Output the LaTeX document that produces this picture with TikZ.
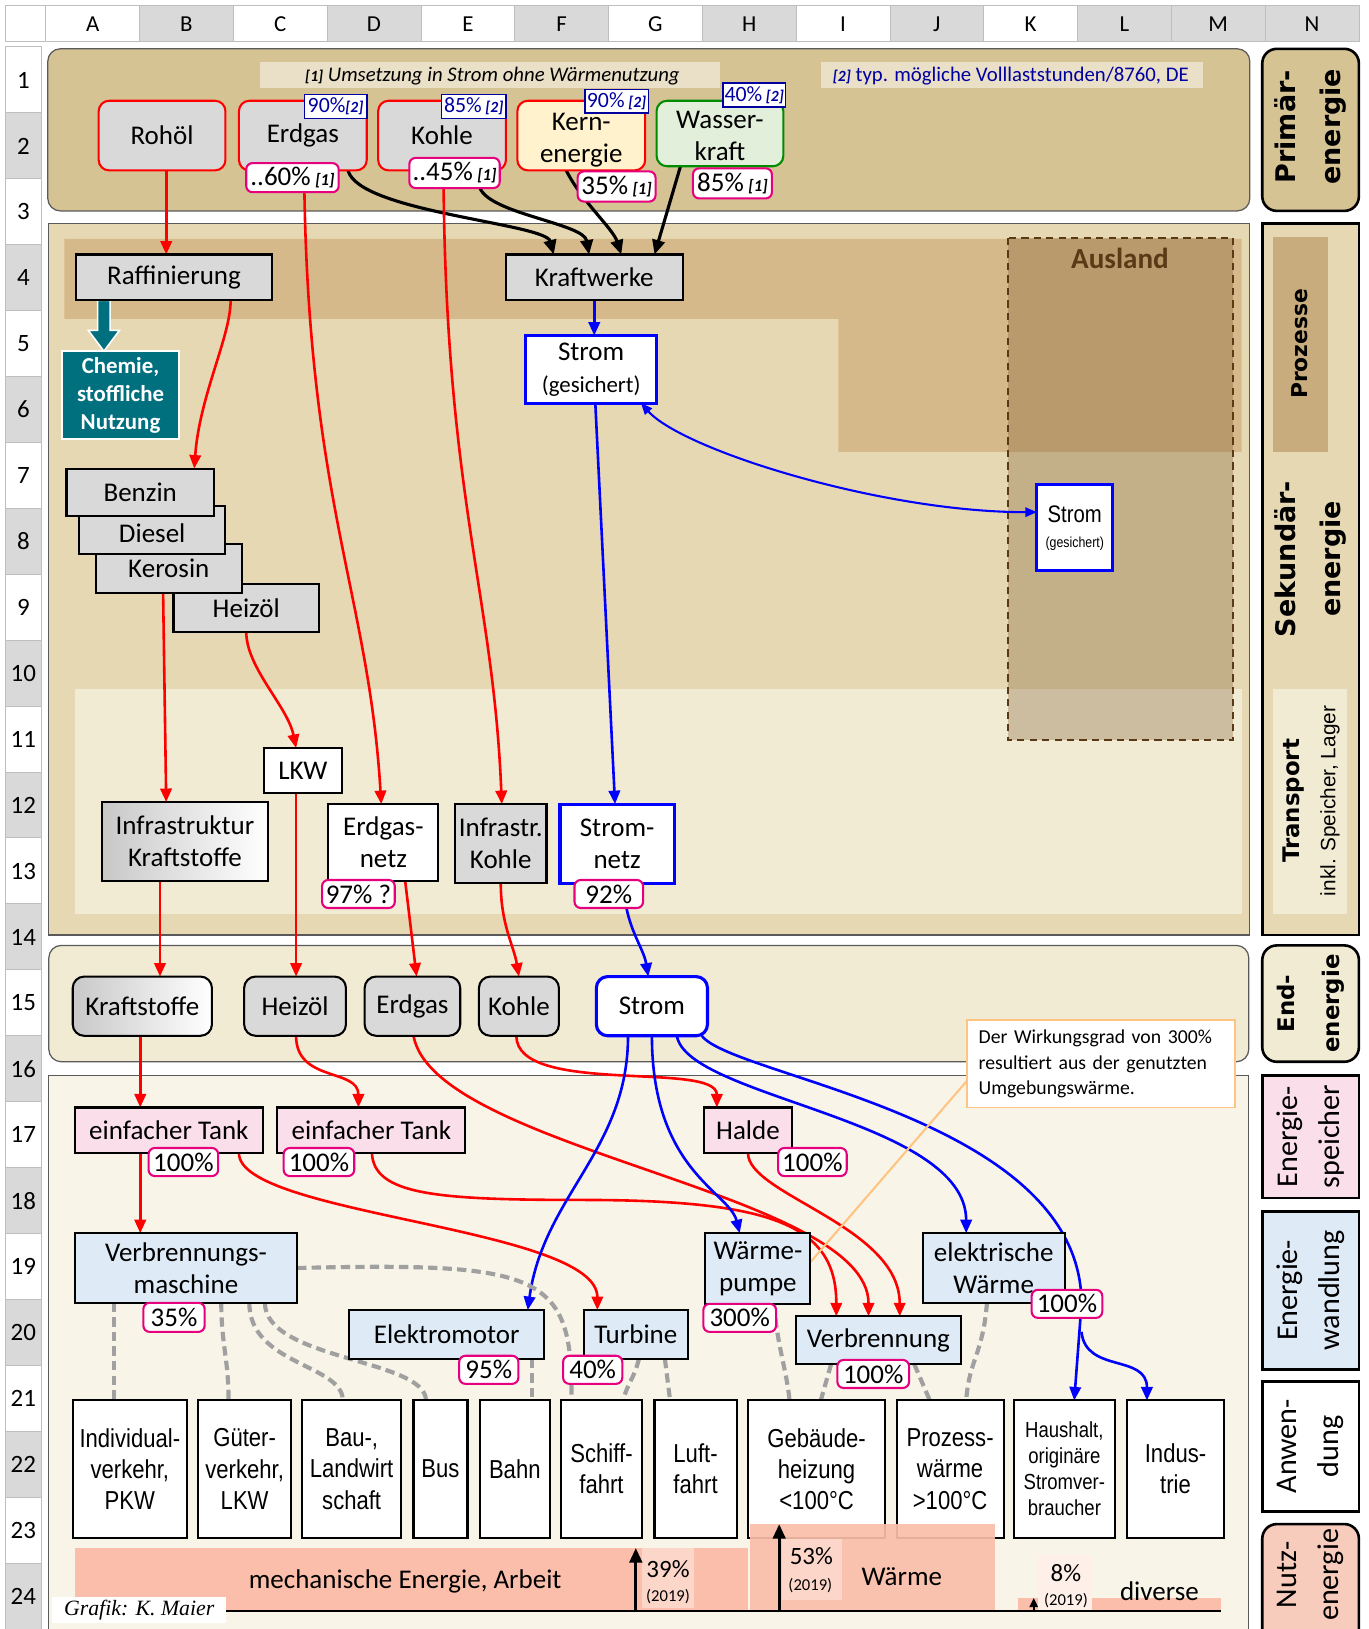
\documentclass[tikz,border=0pt]{standalone}
\usepackage{fontspec}
\setmainfont{Carlito}
\newfontfamily\narrowf[FakeStretch=0.85]{Liberation Sans}
\newfontfamily\arialf{Liberation Sans}
\newfontfamily\dejaf{DejaVu Sans}
\newfontfamily\timesf{Liberation Serif}
\usetikzlibrary{arrows.meta,calc}
\newcommand\fs[2]{\fontsize{#1}{#2}\selectfont}
\definecolor{hg}{RGB}{217,217,217}
\definecolor{gridc}{RGB}{190,190,190}
\definecolor{tanA}{RGB}{214,195,148}
\definecolor{tanB}{RGB}{230,216,178}
\definecolor{prozc}{RGB}{214,185,138}
\definecolor{prozside}{RGB}{201,172,125}
\definecolor{transc}{RGB}{242,235,212}
\definecolor{endc}{RGB}{242,235,212}
\definecolor{botc}{RGB}{248,245,232}
\definecolor{auslc}{RGB}{120,85,40}
\definecolor{ausbrown}{RGB}{90,58,22}
\definecolor{ngrey}{RGB}{217,217,217}
\definecolor{kernc}{RGB}{255,242,204}
\definecolor{wasc}{RGB}{226,239,218}
\definecolor{wasb}{RGB}{0,140,0}
\definecolor{navyc}{RGB}{0,0,160}
\definecolor{magc}{RGB}{230,0,126}
\definecolor{tealc}{RGB}{0,112,127}
\definecolor{pinkc}{RGB}{250,222,233}
\definecolor{bluec}{RGB}{222,235,247}
\definecolor{salm}{RGB}{250,190,170}
\definecolor{salml}{RGB}{252,214,200}
\definecolor{nutzc}{RGB}{248,204,188}
\definecolor{callc}{RGB}{255,195,130}
\definecolor{dgrey}{RGB}{90,90,90}
\definecolor{dashc}{RGB}{160,160,160}
\definecolor{notec}{RGB}{234,224,200}
\definecolor{gradc}{RGB}{200,200,200}
\pgfdeclarelayer{bg}\pgfdeclarelayer{conn}\pgfsetlayers{bg,conn,main}
\tikzset{
 gb/.style={draw=black, line width=2pt, fill=ngrey},
 wb/.style={draw=black, line width=2pt, fill=white},
 pr/.style={draw=red, line width=2pt, fill=ngrey, rounded corners=10pt},
 nb/.style={draw=navyc, line width=1.5pt, fill=white, font=\fs{21}{24}, text=navyc},
 pb/.style={draw=magc, line width=2pt, fill=white, rounded corners=6pt},
 eb/.style={draw=black, line width=2pt, fill=ngrey, rounded corners=11pt},
 tk/.style={draw=black, line width=2pt, fill=pinkc},
 bl/.style={draw=black, line width=2pt, fill=bluec},
 ap/.style={draw=black, line width=2pt, fill=white, font=\narrowf\fs{25}{30}},
 sb/.style={draw=blue, line width=3pt, fill=white},
 side/.style={draw=black, line width=2.5pt},
 sidet/.style={rotate=90, font=\dejaf\bfseries\fs{26}{43}},
 sidec/.style={rotate=90, font=\fs{29}{40}},
 ra/.style={red, line width=2.5pt, -{Triangle[length=13pt,width=11pt]}},
 ba/.style={blue, line width=2.5pt, -{Triangle[length=13pt,width=11pt]}},
 ka/.style={black, line width=3pt, -{Triangle[length=14pt,width=12pt]}},
 gd/.style={dashc, line width=4pt, dash pattern=on 9pt off 5pt},
}
\begin{document}
\begin{tikzpicture}[x=1pt,y=-1pt, every node/.style={inner sep=0pt,outer sep=0pt,align=center,font=\fs{26}{31}}]
\useasboundingbox (0,0) rectangle (1317,1568);
\begin{pgfonlayer}{bg}
\fill[white] (0,0) rectangle (1317,1568);
% panels
\draw[fill=tanA, draw=dgrey, line width=1.2pt, rounded corners=12pt] (46,47) rectangle (1203,203);
\draw[fill=tanB, draw=dgrey, line width=1.2pt] (47,215) rectangle (1203,900);
\fill[prozc] (62,230) -- (1195,230) -- (1195,435) -- (807,435) -- (807,307) -- (62,307) -- cycle;
\fill[transc] (72,663) rectangle (1195,880);
\fill[auslc, opacity=0.3] (970,229) rectangle (1187,712);
\draw[ausbrown, line width=2pt, dash pattern=on 7pt off 5pt] (970,229) rectangle (1187,712);
\draw[fill=endc, draw=dgrey, line width=1.2pt, rounded corners=12pt] (47,910) rectangle (1202,1022);
\draw[fill=botc, draw=dgrey, line width=1.2pt] (47,1035) rectangle (1202,1575);
\fill[notec] (250,60) rectangle (693,85);
\fill[notec] (790,60) rectangle (1158,85);
% nutzenergie bands
\fill[salm] (72,1490) rectangle (720,1551);
\fill[salm] (980,1538) rectangle (1175,1551);
\fill[salml] (618,1490) rectangle (668,1548);
\fill[white!60!salml] (999,1497) rectangle (1051,1551);
\end{pgfonlayer}

% headers
\draw[fill=white, draw=gridc, line width=0.8pt] (5,5) rectangle (44,40);
\foreach \i/\l/\c in {0/A/white,1/B/hg,2/C/white,3/D/hg,4/E/white,5/F/hg,6/G/white,7/H/hg,8/I/white,9/J/hg,10/K/white,11/L/hg,12/M/hg,13/N/hg}{
  \pgfmathsetmacro\xa{44+\i*90.29}
  \draw[fill=\c, draw=gridc, line width=0.8pt] (\xa,5) rectangle ({\xa+90.29},40);
  \node[font=\fs{22}{24}] (col\l) at ({\xa+45.15},23) {\l};
}
\foreach \r in {1,...,24}{
  \pgfmathsetmacro\ya{45+(\r-1)*63.46}
  \ifodd\r \def\rc{white}\else\def\rc{hg}\fi
  \draw[fill=\rc, draw=gridc, line width=0.8pt] (5,\ya) rectangle (40,{\ya+63.46});
  \node[font=\fs{24}{26}] (row\r) at (22.5,{\ya+32}) {\r};
}

% side labels
\draw[side, fill=tanA, rounded corners=14pt] (1215,47) rectangle (1308,203);
\node[sidet] (lprim) at (1261.5,122) {Primär-\\energie};
\draw[side, fill=tanB] (1215,215) rectangle (1308,900);
\fill[prozside] (1225,228) rectangle (1278,435);
\node[sidet, font=\dejaf\bfseries\fs{21}{24}] (lproz) at (1251,331) {Prozesse};
\node[sidet] (lsek) at (1261.5,538) {Sekundär-\\energie};
\fill[transc] (1225,663) rectangle (1297,880);
\node[rotate=90, font=\dejaf\bfseries\fs{22}{35}] (ltrans) at (1262,771) {Transport\\{\arialf\mdseries\fs{20}{24}inkl. Speicher, Lager}};
\draw[side, fill=endc, rounded corners=14pt] (1215,910) rectangle (1308,1022);
\node[sidet, font=\dejaf\bfseries\fs{22}{43}] (lend) at (1261.5,966) {End-\\energie};
\draw[side, fill=pinkc] (1215,1035) rectangle (1308,1153);
\node[sidec] (lspei) at (1261.5,1094) {Energie-\\speicher};
\draw[side, fill=bluec] (1215,1166) rectangle (1308,1318);
\node[sidec] (lwand) at (1261.5,1242) {Energie-\\wandlung};
\draw[side, fill=white] (1215,1330) rectangle (1308,1455);
\node[sidec] (lanw) at (1261.5,1392) {Anwen-\\dung};
\draw[side, fill=nutzc, rounded corners=14pt] (1215,1467) rectangle (1308,1590);
\node[sidec] (lnutz) at (1261.5,1516) {Nutz-\\energie};

% notes
\node[font=\fs{20}{22}\itshape] (note1) at (474,73) {{\bfseries\fs{15}{16}[1]} Umsetzung in Strom ohne Wärmenutzung};
\node[font=\fs{20}{22}, text=navyc] (note2) at (973,73) {{\bfseries\itshape\fs{15}{16}[2]} typ. mögliche Volllaststunden/8760, DE};
\node[font=\bfseries\fs{28}{30}, text=ausbrown] (ausland) at (1078,249) {Ausland};

% primary
\node[pr, minimum width=122pt, minimum height=67pt] (rohol) at (156,130.5) {Rohöl};
\node[pr, minimum width=123pt, minimum height=67pt] (erdgasP) at (291.5,130.5) {Erdgas};
\node[pr, minimum width=123pt, minimum height=67pt] (kohleP) at (425.5,130.5) {Kohle};
\node[pr, fill=kernc, minimum width=123pt, minimum height=67pt] (kern) at (559.5,130.5) {};
\node (kernT) at (559.5,135) {Kern-\\energie};
\node[pr, fill=wasc, draw=wasb, minimum width=122pt, minimum height=63pt] (wasser) at (693,128.5) {};
\node (wasserT) at (693,131) {Wasser-\\kraft};
\node[nb, minimum width=60pt, minimum height=23pt] (b1) at (323,102.5) {90\%{\bfseries\itshape\fs{15}{16}[2]}};
\node[nb, minimum width=62pt, minimum height=23pt] (b2) at (456,102.5) {85\%\,{\bfseries\itshape\fs{15}{16}[2]}};
\node[nb, minimum width=61pt, minimum height=23pt] (b3) at (593.5,97.5) {90\%\,{\bfseries\itshape\fs{15}{16}[2]}};
\node[nb, minimum width=60pt, minimum height=23pt] (b4) at (726,91.5) {40\%\,{\bfseries\itshape\fs{15}{16}[2]}};
\node[pb, minimum width=89pt, minimum height=28pt] (p60) at (281.5,171) {..60\%\,{\bfseries\itshape\fs{16}{18}[1]}};
\node[pb, minimum width=87pt, minimum height=29pt] (p45) at (437.5,166.5) {..45\%\,{\bfseries\itshape\fs{16}{18}[1]}};
\node[pb, minimum width=75pt, minimum height=29pt] (p35) at (593.5,179.5) {35\%\,{\bfseries\itshape\fs{16}{18}[1]}};
\node[pb, minimum width=76pt, minimum height=29pt] (p85) at (705,176.5) {85\%\,{\bfseries\itshape\fs{16}{18}[1]}};

% secondary
\node[gb, minimum width=189pt, minimum height=44pt] (raff) at (167.5,267) {Raffinierung};
\node[gb, minimum width=170pt, minimum height=44pt] (kw) at (572,267) {Kraftwerke};
\node[draw=white, line width=2pt, fill=tealc, text=white, font=\bfseries\fs{22}{27}, minimum width=112pt, minimum height=85pt] (chem) at (116,380.5) {Chemie,\\stoffliche\\Nutzung};
\node[sb, minimum width=126pt, minimum height=65pt] (stromG) at (569,355.5) {Strom\\{\fs{22}{26}(gesichert)}};
\node[sb, minimum width=73pt, minimum height=83pt, font=\narrowf\fs{23}{24}] (stromA) at (1034.5,508) {Strom\\{\fs{14}{20}(gesichert)}};
\node[gb, minimum width=140pt, minimum height=46pt] (heiz) at (237,585) {Heizöl};
\node[gb, minimum width=141pt, minimum height=47pt] (kero) at (162.5,547.5) {Kerosin};
\node[gb, minimum width=141pt, minimum height=46pt] (dies) at (146.5,510) {};
\node (diesT) at (146.5,513) {Diesel};
\node[gb, minimum width=142pt, minimum height=46pt] (benz) at (135,474) {Benzin};
\node[wb, minimum width=75pt, minimum height=43pt] (lkw) at (291.5,741.5) {LKW};
\node[gb, left color=gradc, right color=white, minimum width=160pt, minimum height=76pt] (infk) at (178,810) {Infrastruktur\\Kraftstoffe};
\node[wb, minimum width=106pt, minimum height=74pt] (egn) at (369,811) {Erdgas-\\netz};
\node[gb, minimum width=88pt, minimum height=76pt] (ikohle) at (482,812) {Infrastr.\\Kohle};
\node[sb, minimum width=110pt, minimum height=76pt] (sn) at (594,812) {Strom-\\netz};
\node[pb, minimum width=70pt, minimum height=27pt] (p97) at (345,860.5) {97\% ?};
\node[pb, minimum width=66pt, minimum height=27pt] (p92) at (586,860.5) {92\%};

% end energy
\node[eb, left color=gradc, right color=white, minimum width=134pt, minimum height=57pt] (kraft) at (137,968.5) {Kraftstoffe};
\node[eb, minimum width=98pt, minimum height=57pt] (heizE) at (284,968.5) {Heizöl};
\node[eb, minimum width=92pt, minimum height=57pt] (erdE) at (397,968.5) {Erdgas};
\node[eb, minimum width=77pt, minimum height=57pt] (kohE) at (499.5,968.5) {Kohle};
\node[eb, draw=blue, line width=3pt, fill=white, minimum width=107pt, minimum height=57pt] (stromE) at (627.5,968.5) {Strom};

% storage
\node[tk, minimum width=181pt, minimum height=44pt] (tank1) at (162.5,1088) {einfacher Tank};
\node[tk, minimum width=181pt, minimum height=44pt] (tank2) at (357.5,1088) {einfacher Tank};
\node[tk, minimum width=84pt, minimum height=44pt] (halde) at (720,1088) {Halde};
\node[pb, minimum width=67pt, minimum height=27pt] (pa) at (176.5,1118.5) {100\%};
\node[pb, minimum width=68pt, minimum height=27pt] (pbb) at (307,1118.5) {100\%};
\node[pb, minimum width=66pt, minimum height=27pt] (pc) at (782,1118.5) {100\%};

% conversion
\node[bl, minimum width=214pt, minimum height=67pt] (vm) at (179,1220.5) {Verbrennungs-\\maschine};
\node[bl, minimum width=188pt, minimum height=47pt] (elektro) at (430,1284.5) {Elektromotor};
\node[bl, minimum width=100pt, minimum height=47pt] (turb) at (612,1284.5) {Turbine};
\node[bl, minimum width=101pt, minimum height=68pt] (wp) at (729.5,1221) {Wärme-\\pumpe};
\node[bl, minimum width=159pt, minimum height=46pt] (verbr) at (845.5,1290) {Verbrennung};
\node[bl, minimum width=137pt, minimum height=67pt] (ew) at (956.5,1220.5) {elektrische\\Wärme};
\node[pb, minimum width=59pt, minimum height=28pt] (p35b) at (167.5,1268) {35\%};
\node[pb, minimum width=57pt, minimum height=27pt] (p95) at (470.5,1318.5) {95\%};
\node[pb, minimum width=57pt, minimum height=27pt] (p40) at (570.5,1318.5) {40\%};
\node[pb, minimum width=70pt, minimum height=27pt] (p300) at (712,1268.5) {300\%};
\node[pb, minimum width=69pt, minimum height=27pt] (pd) at (840.5,1322.5) {100\%};
\node[pb, minimum width=68pt, minimum height=27pt] (pe) at (1027,1255) {100\%};
\node[draw=callc, line width=1.5pt, fill=white, minimum width=258pt, minimum height=84pt, text width=236pt, align=left, font=\fs{19}{24.5}] (call) at (1060,1024) {Der Wirkungsgrad von 300\%\\resultiert aus der genutzten\\Umgebungswärme.};

% applications
\node[ap, minimum width=110pt, minimum height=132pt] (ind) at (125,1414) {Individual-\\verkehr,\\PKW};
\node[ap, minimum width=89pt, minimum height=132pt] (gut) at (235.5,1414) {Güter-\\verkehr,\\LKW};
\node[ap, minimum width=95pt, minimum height=132pt] (bau) at (338.5,1414) {Bau-,\\Landwirt\\schaft};
\node[ap, minimum width=52pt, minimum height=132pt] (bus) at (424,1414) {Bus};
\node[ap, minimum width=67pt, minimum height=132pt] (bahn) at (495.5,1414) {Bahn};
\node[ap, minimum width=78pt, minimum height=132pt] (schiff) at (579,1414) {Schiff-\\fahrt};
\node[ap, minimum width=79pt, minimum height=132pt] (luft) at (669.5,1414) {Luft-\\fahrt};
\node[ap, minimum width=132pt, minimum height=132pt] (geb) at (786,1414) {Gebäude-\\heizung\\<100°C};
\node[ap, minimum width=103pt, minimum height=132pt] (proz) at (914.5,1414) {Prozess-\\wärme\\>100°C};
\node[ap, minimum width=97pt, minimum height=132pt, font=\narrowf\fs{21}{25}] (haus) at (1024.5,1414) {Haushalt,\\originäre\\Stromver-\\braucher};
\node[ap, minimum width=93pt, minimum height=132pt] (indus) at (1131.5,1414) {Indus-\\trie};

% waerme band over boxes
\fill[salm, opacity=0.92] (722,1467) rectangle (958,1551);
\fill[salml] (753,1481) rectangle (810,1540);

% nutzenergie texts
\node (mech) at (390,1522) {mechanische Energie, Arbeit};
\node[font=\fs{24}{26}] (t39) at (643,1510) {39\%};
\node[font=\fs{16}{18}] (y39) at (643,1537) {(2019)};
\node[font=\fs{24}{26}] (t53) at (781,1498) {53\%};
\node[font=\fs{16}{18}] (y53) at (780,1526) {(2019)};
\node (waerme) at (868,1518) {Wärme};
\node[font=\fs{24}{26}] (t8) at (1026,1514) {8\%};
\node[font=\fs{16}{18}] (y8) at (1026,1541) {(2019)};
\node (div) at (1116,1532) {diverse};
\node[fill=white, font=\timesf\itshape\fs{21}{24}, inner xsep=4pt, inner ysep=3pt, minimum width=168pt] (graf) at (134,1550) {Grafik: K. Maier};
\coordinate (base0) at (218,1551);
\coordinate (base1) at (1175,1551);
\coordinate (a39) at (612,1551);
\coordinate (a53) at (750,1551);
\coordinate (a8) at (995,1551);
\draw[black, line width=2pt] (base0) -- (base1);
\draw[ka, line width=3pt] (a39) -- ++(0,-61);
\draw[ka, line width=3pt] (a53) -- ++(0,-84);
\draw[black, line width=2pt, -{Triangle[length=9pt,width=8pt]}] (a8) -- ++(0,-13);

\begin{pgfonlayer}{conn}
% top black arrows
\draw[ka] ([xshift=-18pt]erdgasP.south east) .. controls +(10,40) and +(-8,-30) .. ([xshift=46pt]kw.north west);
\draw[ka] ([xshift=-19pt]p45.south east) .. controls +(10,25) and +(-5,-30) .. ([xshift=80pt]kw.north west);
\draw[ka] ([xshift=47pt]kern.south west) .. controls +(15,30) and +(-8,-25) .. ([xshift=111pt]kw.north west);
\draw[ka] ([xshift=23pt]wasser.south west) -- ([xshift=143pt]kw.north west);
% teal block arrow
\draw[fill=tealc, draw=white, line width=1.5pt] ([xshift=-73.5pt]raff.south) -- ([xshift=-61.5pt]raff.south) -- ([xshift=-61.5pt,yshift=-29pt]raff.south) -- ([xshift=-52.5pt,yshift=-29pt]raff.south) -- ([xshift=-16pt]chem.north) -- ([xshift=-82.5pt,yshift=-29pt]raff.south) -- ([xshift=-73.5pt,yshift=-29pt]raff.south) -- cycle;
% red secondary
\draw[ra] ([xshift=4pt]rohol.south) -- ([xshift=4pt]rohol.south |- raff.north);
\draw[ra] ([xshift=54.5pt]raff.south) .. controls +(0,35) and +(5,-70) .. ([xshift=52pt]benz.north);
\draw[ra] ([xshift=11.5pt]p60.south) .. controls +(5,300) and +(-12,-200) .. ([xshift=-2pt]egn.north);
\draw[ra] ([xshift=-10.5pt]p45.south) .. controls +(3,300) and +(-8,-200) .. ([xshift=1pt]ikohle.north);
\draw[ra] ([xshift=-5.5pt]kero.south) -- ([xshift=-18pt]infk.north);
\draw[ra] (heiz.south) .. controls +(0,35) and +(-8,-40) .. ([xshift=-6.5pt]lkw.north);
% blue secondary
\draw[ba] (kw.south) -- (kw.south |- stromG.north);
\draw[blue, line width=2pt, {Triangle[length=11pt,width=9pt]}-{Triangle[length=11pt,width=9pt]}] ([xshift=48pt]stromG.south) .. controls +(40,45) and +(-150,0) .. ([yshift=15pt]stromA.west);
\draw[ba] ([xshift=4pt]stromG.south) -- ([xshift=-2pt]sn.north);
\draw[ba] ([xshift=17pt]p92.south) .. controls +(5,25) and +(-4,-25) .. ([xshift=-3.5pt]stromE.north);
% to end energy
\draw[ra] ([xshift=-24pt]infk.south) -- ([xshift=-24pt]infk.south |- kraft.north);
\draw[ra] ([xshift=-6.5pt]lkw.south) -- ([xshift=-6.5pt]lkw.south |- heizE.north);
\draw[ra] ([xshift=21pt]egn.south) -- ([xshift=4pt]erdE.north);
\draw[ra] (ikohle.south) .. controls +(0,40) and +(-5,-30) .. (kohE.north);
% to storage
\draw[ra] ([xshift=-2pt]kraft.south) -- ([xshift=-2pt]kraft.south |- tank1.north);
\draw[ra] ([xshift=1pt]heizE.south) .. controls +(0,45) and +(0,-38) .. ([xshift=-12.5pt]tank2.north);
\draw[ra] ([xshift=-2.5pt]kohE.south) .. controls +(0,58) and +(0,-45) .. ([xshift=-30pt]halde.north);
\draw[ra] ([xshift=1pt]erdE.south) .. controls +(20,110) and +(0,-120) .. ([xshift=-9.5pt]verbr.north);
% storage to conversion
\draw[ra] ([xshift=-27.5pt]tank1.south) -- ([xshift=-27.5pt]tank1.south |- vm.north);
\draw[ra] ([xshift=67.5pt]tank1.south) .. controls +(0,60) and +(0,-80) .. ([xshift=-37pt]turb.north);
\draw[ra] ([xshift=0.5pt]tank2.south) .. controls +(2,40) and +(-140,0) .. (560,1155) .. controls +(185,0) and +(0,-87) .. ([xshift=-40.5pt]verbr.north);
\draw[ra] (halde.south) .. controls +(0,40) and +(0,-87) .. ([xshift=20.5pt]verbr.north);
% blue from Strom
\draw[ba] ([xshift=-23pt]stromE.south) .. controls +(0,110) and +(15,-110) .. ([xshift=78pt]elektro.north);
\draw[ba] (stromE.south) .. controls +(0,130) and +(-10,-40) .. ([xshift=-17.5pt]wp.north);
\draw[ba] ([xshift=24pt]stromE.south) .. controls +(10,60) and +(0,-110) .. ([xshift=-26.5pt]ew.north);
\draw[ba] ([xshift=48pt]stromE.south) .. controls +(30,40) and +(0,-180) .. ([xshift=14pt]pe.center) -- ([xshift=9.5pt]haus.north);
\draw[ba] ([xshift=14pt,yshift=-27pt]pe.center) .. controls +(4,40) and +(0,-45) .. ([xshift=-27.5pt]indus.north);
% dashed
\draw[gd] ([xshift=-69pt]vm.south) -- ([xshift=-69pt]vm.south |- ind.north);
\draw[gd] ([xshift=34pt]vm.south) .. controls +(0,40) and +(0,-40) .. ([xshift=-15.5pt]gut.north);
\draw[gd] ([xshift=61pt]vm.south) .. controls +(0,60) and +(0,-35) .. ([xshift=-8.5pt]bau.north);
\draw[gd] ([xshift=76pt]vm.south) .. controls +(0,55) and +(0,-40) .. ([xshift=-14pt]bus.north);
\draw[gd] (vm.east) .. controls (520,1215) and (552,1225) .. ([xshift=-29pt]schiff.north);
\draw[gd] ([xshift=82pt]elektro.south) -- ([xshift=82pt]elektro.south |- bahn.north);
\draw[gd] ([xshift=3pt]turb.south) .. controls +(-5,20) and +(3,-15) .. ([xshift=21pt]schiff.north);
\draw[gd] ([xshift=28pt]turb.south) -- ([xshift=-24.5pt]luft.north);
\draw[gd] ([xshift=15.5pt]wp.south) .. controls +(3,40) and +(-3,-30) .. ([xshift=-26pt]geb.north);
\draw[gd] ([xshift=-45.5pt]verbr.south) -- ([xshift=4pt]geb.north);
\draw[gd] ([xshift=34.5pt]verbr.south) -- ([xshift=-19.5pt]proz.north);
\draw[gd] ([xshift=-6.5pt]ew.south) .. controls +(-4,50) and +(3,-40) .. ([xshift=15.5pt]proz.north);
% callout line
\draw[callc, line width=2pt] ([yshift=-16pt]call.west) -- ([xshift=33pt,yshift=13pt]p300.center);
\end{pgfonlayer}
\end{tikzpicture}
\end{document}
